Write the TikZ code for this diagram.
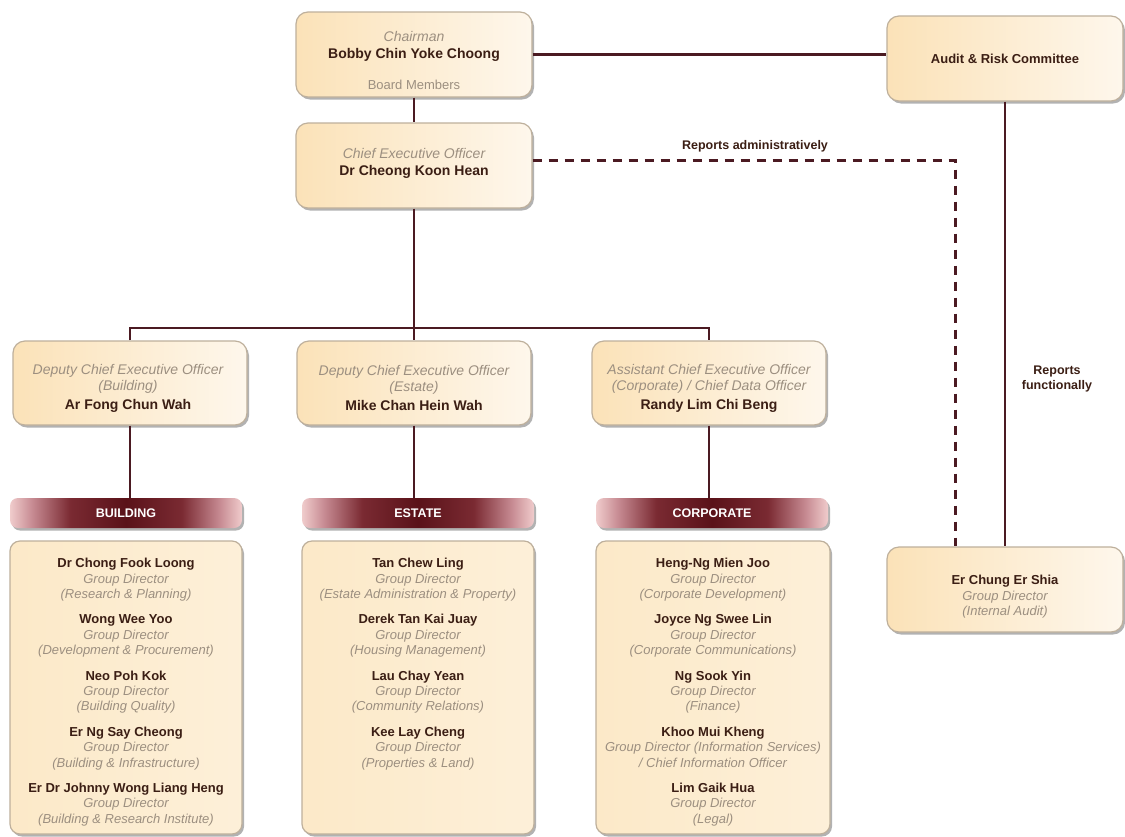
\documentclass[tikz,border=0pt]{standalone}
\usepackage{fontspec}
\setmainfont{Liberation Sans}
\usetikzlibrary{shadows}
\definecolor{namec}{HTML}{3B1E14}
\definecolor{rolec}{HTML}{9C8F80}
\definecolor{linec}{HTML}{4B1A22}
\definecolor{boxdraw}{HTML}{BEB09C}
\definecolor{boxl}{HTML}{FBE2B8}
\definecolor{boxr}{HTML}{FEF7EC}
\definecolor{listf}{HTML}{FCE9C8}
\definecolor{barM}{HTML}{5A1219}
\definecolor{barQ}{HTML}{7A2A32}
\definecolor{barR}{HTML}{C58890}
\definecolor{barEdge}{HTML}{F0CCCC}
\pgfdeclarehorizontalshading{barshade}{100bp}{color(0bp)=(barEdge); color(25bp)=(barEdge); color(30bp)=(barR); color(38bp)=(barQ); color(50bp)=(barM); color(62bp)=(barQ); color(70bp)=(barR); color(75bp)=(barEdge); color(100bp)=(barEdge)}
\newcommand{\nm}[1]{{\bfseries\color{namec}#1}}
\newcommand{\rl}[1]{{\itshape\color{rolec}#1}}
\begin{document}
\begin{tikzpicture}[x=1pt,y=-1pt,
  shad/.style={drop shadow={shadow xshift=2pt,shadow yshift=-2.5pt,fill=black!55,opacity=0.55}},
  box/.style={draw=boxdraw,line width=1.2pt,rounded corners=12pt,left color=boxl,right color=boxr,shad,inner sep=0pt,minimum width=236pt,minimum height=85pt},
  listbox/.style={draw=boxdraw,line width=1.2pt,rounded corners=10pt,left color=listf,right color=listf!70!white,shad,inner sep=0pt,minimum width=232pt,minimum height=293pt},
  bar/.style={rounded corners=8pt,shading=barshade,shad,inner sep=0pt,minimum width=232pt,minimum height=30pt,text=white,font=\fontsize{12.5}{15}\selectfont\bfseries},
  txt/.style={align=center,inner sep=0pt,font=\fontsize{14}{17}\selectfont},
  ltxt/.style={align=center,inner sep=0pt,anchor=north,font=\fontsize{13}{15.4}\selectfont},
  lbl/.style={align=center,inner sep=0pt,text=namec,font=\fontsize{12.5}{15}\selectfont\bfseries},
  conn/.style={draw=linec,line width=2.3pt},
  dconn/.style={draw=linec,line width=3pt,dash pattern=on 9pt off 7pt}]
\useasboundingbox (0,0) rectangle (1125,836);
\fill[white] (0,0) rectangle (1125,836);

\coordinate (hub) at (414,328);
\coordinate (dcorner) at (955,160);

% boxes
\node[box] (chair) at (414,54.5) {};
\node[box] (ceo) at (414,165.5) {};
\node[box] (audit) at (1005,58.5) {};
\node[box,minimum width=234pt,minimum height=84pt] (dB) at (130,383) {};
\node[box,minimum width=234pt,minimum height=84pt] (dE) at (414,383) {};
\node[box,minimum width=234pt,minimum height=84pt] (dC) at (709,383) {};
\node[box] (ia) at (1005,589.5) {};

\node[bar] (barB) at (126,513) {BUILDING};
\node[bar] (barE) at (418,513) {ESTATE};
\node[bar] (barC) at (712,513) {CORPORATE};

\node[listbox] (lB) at (126,687.5) {};
\node[listbox] (lE) at (418,687.5) {};
\node[listbox,minimum width=234pt] (lC) at (713,687.5) {};

% connectors
\draw[conn] (chair.east) -- (chair.east -| audit.west);
\draw[conn] (chair.south) -- (ceo.north);
\draw[conn] (ceo.south) -- (hub);
\draw[conn] (dB.north) -- (dB.north |- hub) -- (dC.north |- hub) -- (dC.north);
\draw[conn] (hub) -- (dE.north);
\draw[conn] (dB.south) -- (dB.south |- barB.north);
\draw[conn] (dE.south) -- (dE.south |- barE.north);
\draw[conn] (dC.south) -- (dC.south |- barC.north);
\draw[conn] (audit.south) -- (ia.north);
\draw[dconn] (ceo.east |- dcorner) -- (dcorner) -- (dcorner |- ia.north);

% texts
\node[txt] (chairT) at (414,60) {\rl{Chairman}\\ \nm{Bobby Chin Yoke Choong}\\[14pt] {\fontsize{13}{15}\selectfont\color{rolec}Board Members}};
\node[txt] (ceoT) at (414,163) {\rl{Chief Executive Officer}\\ \nm{Dr Cheong Koon Hean}};
\node[txt,font=\fontsize{13}{16}\selectfont] (auditT) at (1005,59) {\nm{Audit \& Risk Committee}};
\node[txt,font=\fontsize{14}{16}\selectfont] (dBT) at (128,388) {\rl{Deputy Chief Executive Officer}\\ \rl{(Building)}\\[3pt] \nm{Ar Fong Chun Wah}};
\node[txt,font=\fontsize{14}{16}\selectfont] (dET) at (414,388) {\rl{Deputy Chief Executive Officer}\\ \rl{(Estate)}\\[3pt] \nm{Mike Chan Hein Wah}};
\node[txt,font=\fontsize{14}{16}\selectfont] (dCT) at (709,388) {\rl{Assistant Chief Executive Officer}\\ \rl{(Corporate) / Chief Data Officer}\\[3pt] \nm{Randy Lim Chi Beng}};
\node[txt,font=\fontsize{13}{15.5}\selectfont] (iaT) at (1005,597) {\nm{Er Chung Er Shia}\\ \rl{Group Director}\\ \rl{(Internal Audit)}};

\node[lbl] (lblA) at (755,146) {Reports administratively};
\node[lbl] (lblF) at (1057,379) {Reports\\functionally};

\node[ltxt] (lBT) at (126,558) {\nm{Dr Chong Fook Loong}\\ \rl{Group Director}\\ \rl{(Research \& Planning)}\\[10pt]
\nm{Wong Wee Yoo}\\ \rl{Group Director}\\ \rl{(Development \& Procurement)}\\[10pt]
\nm{Neo Poh Kok}\\ \rl{Group Director}\\ \rl{(Building Quality)}\\[10pt]
\nm{Er Ng Say Cheong}\\ \rl{Group Director}\\ \rl{(Building \& Infrastructure)}\\[10pt]
\nm{Er Dr Johnny Wong Liang Heng}\\ \rl{Group Director}\\ \rl{(Building \& Research Institute)}};

\node[ltxt] (lET) at (418,558) {\nm{Tan Chew Ling}\\ \rl{Group Director}\\ \rl{(Estate Administration \& Property)}\\[10pt]
\nm{Derek Tan Kai Juay}\\ \rl{Group Director}\\ \rl{(Housing Management)}\\[10pt]
\nm{Lau Chay Yean}\\ \rl{Group Director}\\ \rl{(Community Relations)}\\[10pt]
\nm{Kee Lay Cheng}\\ \rl{Group Director}\\ \rl{(Properties \& Land)}};

\node[ltxt] (lCT) at (713,558) {\nm{Heng-Ng Mien Joo}\\ \rl{Group Director}\\ \rl{(Corporate Development)}\\[10pt]
\nm{Joyce Ng Swee Lin}\\ \rl{Group Director}\\ \rl{(Corporate Communications)}\\[10pt]
\nm{Ng Sook Yin}\\ \rl{Group Director}\\ \rl{(Finance)}\\[10pt]
\nm{Khoo Mui Kheng}\\ \rl{Group Director (Information Services)}\\ \rl{/ Chief Information Officer}\\[10pt]
\nm{Lim Gaik Hua}\\ \rl{Group Director}\\ \rl{(Legal)}};
\end{tikzpicture}
\end{document}
